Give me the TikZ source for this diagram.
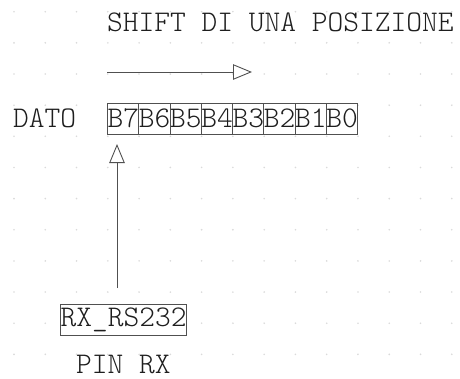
\documentclass[tikz,border=0pt]{standalone}
\usepackage{fontspec}
\setmonofont{lmmonolt10-regular.otf}
\usetikzlibrary{arrows.meta}
\definecolor{linec}{HTML}{505050}
\definecolor{textc}{HTML}{1E1E1E}
\definecolor{dotc}{HTML}{DADADA}
\tikzset{
  lbl/.style={anchor=base west, inner sep=0pt, text=textc, font=\ttfamily\fontsize{30}{30}\selectfont},
  cell/.style={draw=linec, line width=0.9pt, fill=white, minimum width=31.25pt, minimum height=31.25pt, inner sep=0pt, text=textc, font=\ttfamily\fontsize{30}{30}\selectfont},
  flow/.style={draw=linec, line width=0.9pt, -{Triangle[open, length=19pt, width=15.5pt, line width=0.9pt]}},
}
\begin{document}
\begin{tikzpicture}[x=1pt, y=-1pt]
\useasboundingbox (0,0) rectangle (460,378);
% background dot grid
\foreach \i in {0,...,14}{
  \foreach \j in {0,...,11}{
    \fill[dotc] ({14+31.27*\i},{11.7+31.15*\j}) circle (0.9pt);
  }
}
% title and labels
\node[lbl] (title) at (107,31) {SHIFT DI UNA POSIZIONE};
\node[lbl] (dato) at (13,127) {DATO};
% register cells
\foreach \k/\t in {0/B7,1/B6,2/B5,3/B4,4/B3,5/B2,6/B1,7/B0}{
  \node[cell] (c\k) at ({107.8+15.625+31.25*\k},118.6) {\t};
}
% RX box and pin label
\node[cell, minimum width=126.2pt, minimum height=31pt] (rx) at (123.6,319.5) {RX\_RS232};
\node[lbl] (pin) at (76,373.5) {PIN RX};
% shift arrow
\coordinate (sa) at (c0.west |- 0,72);
\coordinate (sb) at (252,72);
\draw[flow] (sa) -- (sb);
% input arrow
\coordinate (ia) at (117,288);
\coordinate (ib) at (117,144);
\draw[flow] (ia) -- (ib);
\end{tikzpicture}
\end{document}
